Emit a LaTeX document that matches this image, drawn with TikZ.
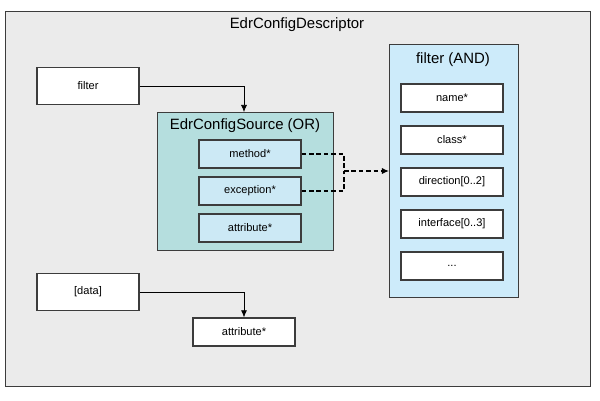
\documentclass[tikz,border=0pt]{standalone}
\usepackage{fontspec}
\setmainfont{Liberation Sans}
\usetikzlibrary{arrows.meta,positioning,calc}
\definecolor{bggray}{HTML}{EBEBEB}
\definecolor{framegray}{HTML}{3C3C3C}
\definecolor{srcteal}{HTML}{B5DEDE}
\definecolor{itemblue}{HTML}{CCE9F5}
\definecolor{andblue}{HTML}{CDEBFA}
\tikzset{
    x=0.02cm,y=-0.02cm,
    -Latex,semithick,
    >={Latex[length=4pt,width=3.5pt]},
    group/.style={draw=framegray,line width=0.8pt,anchor=north west,inner sep=0pt},
    grouptitle/.style={font=\fontsize{8.5}{10}\selectfont},
    box/.style={draw=framegray,line width=0.8pt,fill=white,minimum width=2.04cm,minimum height=0.56cm,inner sep=0pt,font=\fontsize{6.3}{7}\selectfont},
    inbox/.style={box,fill=itemblue},
    bigbox/.style={box,minimum height=0.74cm},
    link/.style={line width=0.7pt,dash pattern=on 2.6pt off 1.6pt}
}
\begin{document}
\begin{tikzpicture}
    \useasboundingbox (0,0) rectangle (600,400);
    % outer descriptor
    \node[group,fill=bggray,minimum width=11.7cm,minimum height=7.5cm] (desc) at (5,11) {};
    \node[grouptitle] (desctitle) at (297,25) {EdrConfigDescriptor};

    % source (OR)
    \node[group,fill=srcteal,minimum width=3.52cm,minimum height=2.76cm] (src) at (157,112) {};
    \node[grouptitle] (srctitle) at (245,126) {EdrConfigSource (OR)};
    \node[inbox] (method) at (250,154) {method*};
    \node[inbox] (exception) at (250,191) {exception*};
    \node[inbox] (attr) at (250,228) {attribute*};

    % filter (AND)
    \node[group,fill=andblue,minimum width=2.58cm,minimum height=5.06cm] (and) at (389,44) {};
    \node[grouptitle] (andtitle) at (453,60) {filter (AND)};
    \node[box] (name) at (452,98) {name*};
    \node[box] (class) at (452,140) {class*};
    \node[box] (dir) at (452,182) {direction[0..2]};
    \node[box] (iface) at (452,224) {interface[0..3]};
    \node[box] (more) at (452,266) {...};

    % left side
    \node[bigbox] (filter) at (88,86) {filter};
    \node[bigbox] (data) at (88,292) {[data]};
    \node[box] (dattr) at (244,332) {attribute*};

    \draw[->] (filter.east) -| (src.north -| dattr.north);
    \draw[->] (data.east) -| (dattr.north);

    \coordinate (join) at (344,171);
    \draw[-,link] (method.east) -| (join);
    \draw[-,link] (exception.east) -| (join);
    \draw[->,link] (join) -- (and.west |- join);
\end{tikzpicture}
\end{document}
